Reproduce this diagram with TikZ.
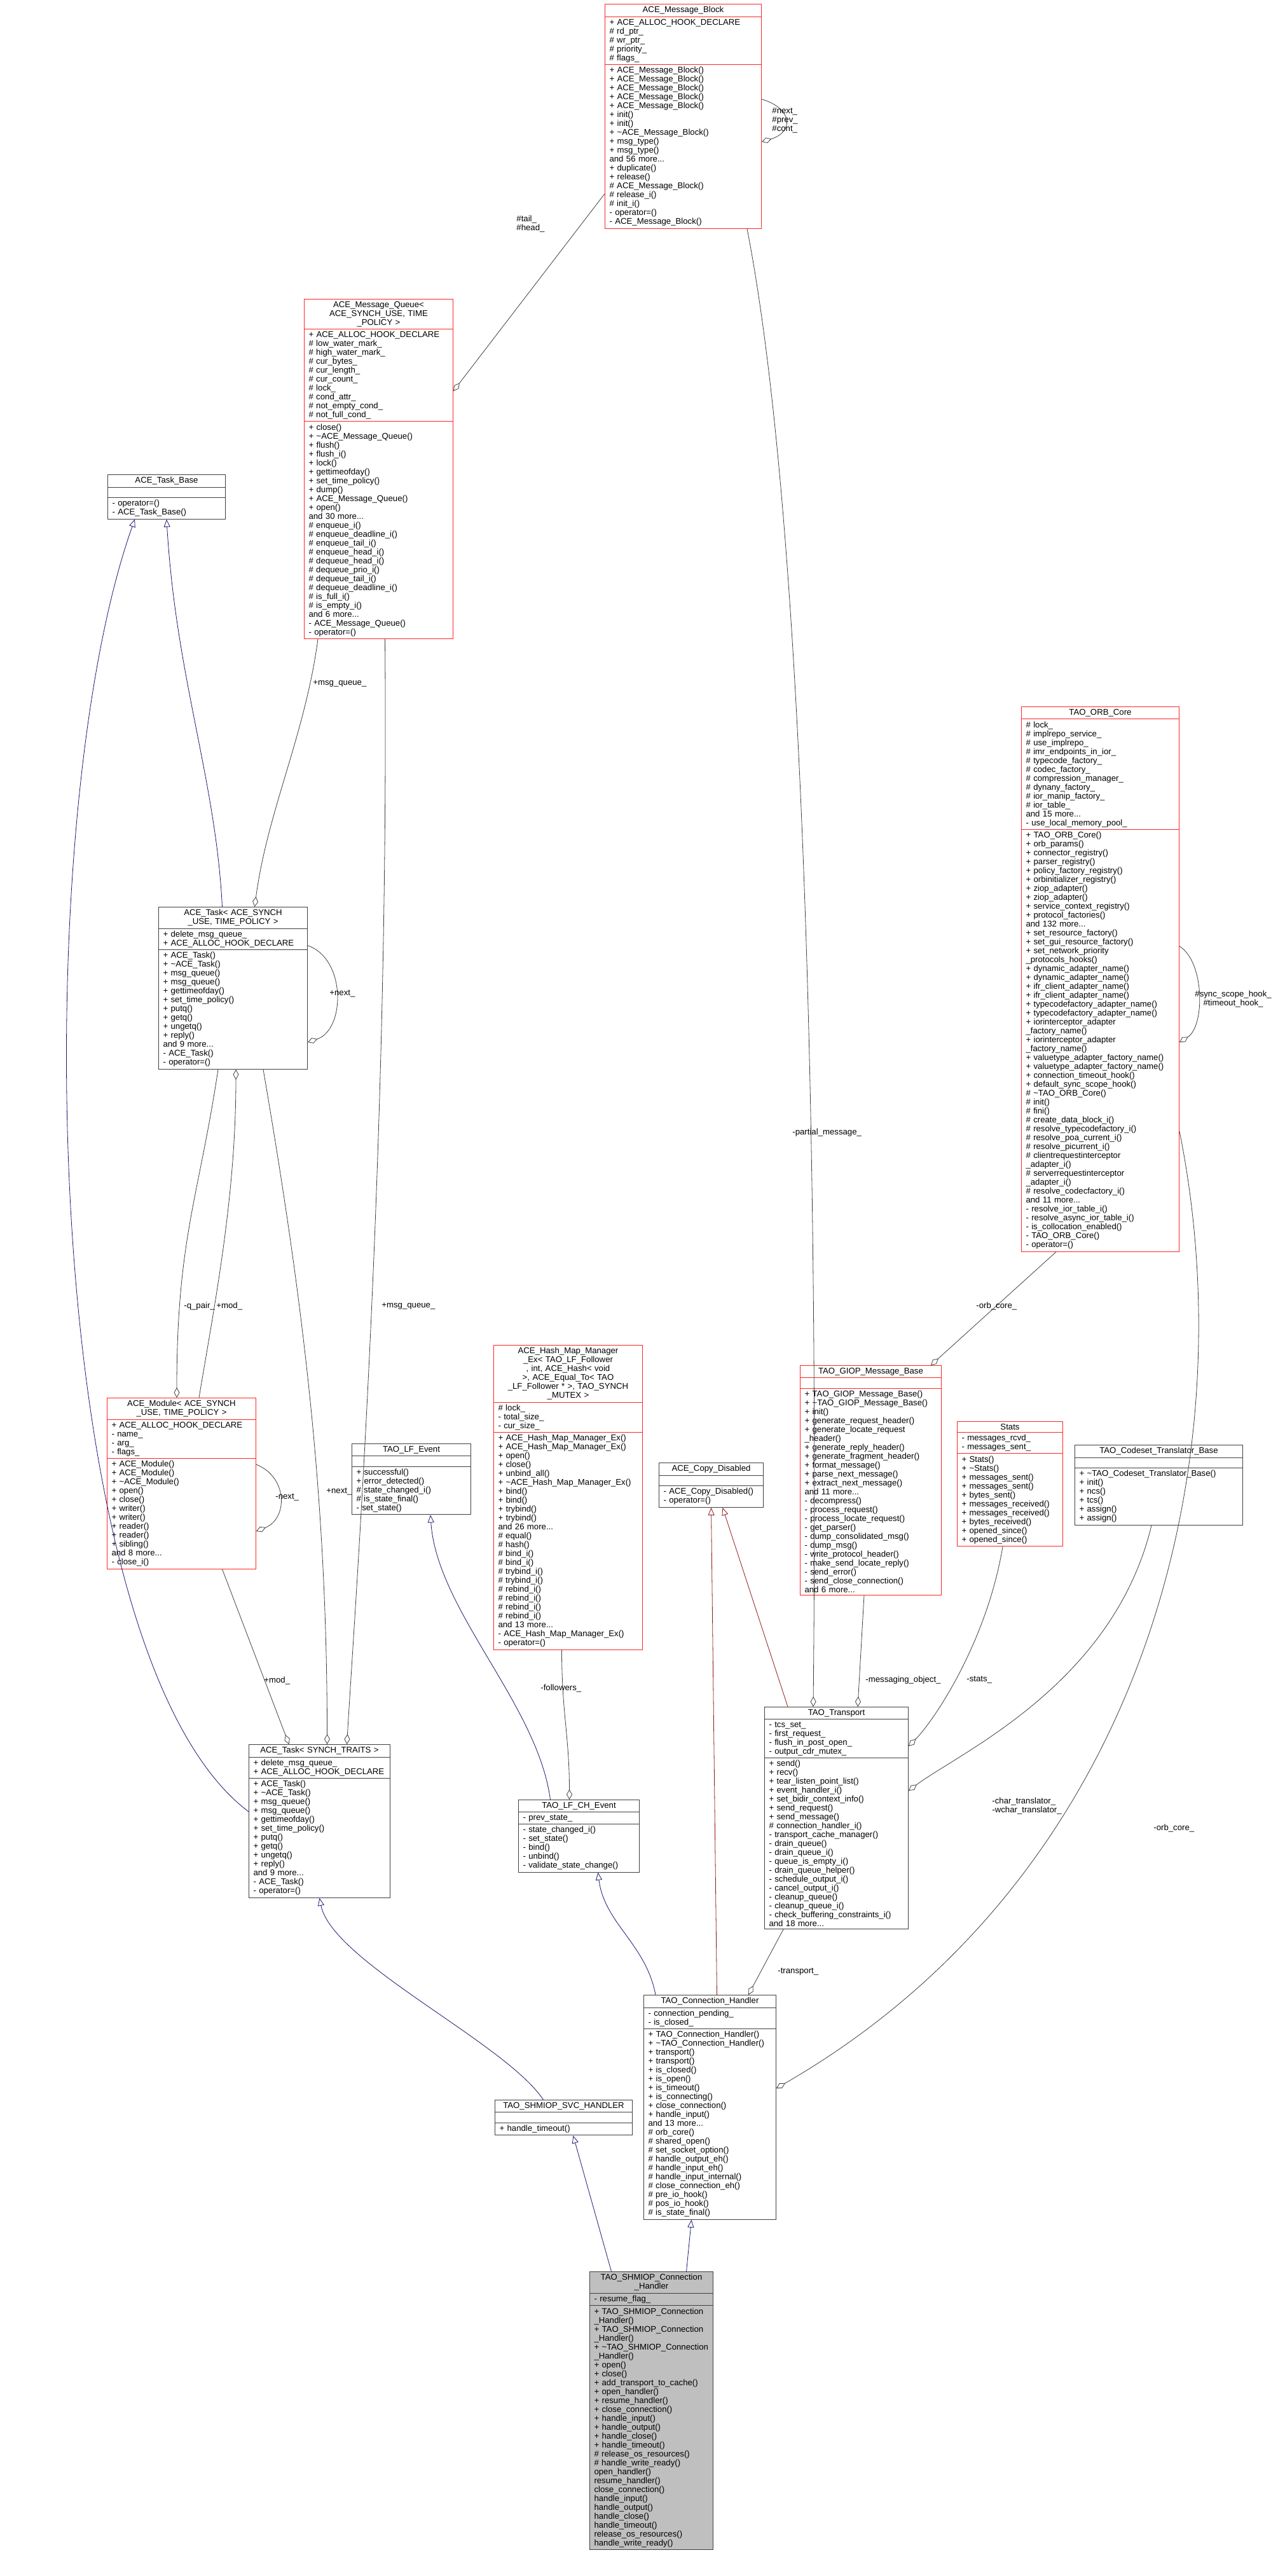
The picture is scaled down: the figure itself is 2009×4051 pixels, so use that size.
\documentclass[tikz,border=0pt]{standalone}
\usepackage{fontspec}
\setmainfont{Liberation Sans}
\usetikzlibrary{shapes.multipart,arrows.meta,calc}
\definecolor{edgegray}{HTML}{404040}
\definecolor{inhblue}{HTML}{191970}
\definecolor{inhred}{HTML}{8B1A1A}
\definecolor{focusgray}{HTML}{BFBFBF}
\newcommand\boxfont{\fontsize{6.6}{7}\selectfont}
\newcommand\classbox[7]{\node[#4, text width=#3pt, anchor=north west] (#1) at (#2) {{\centering #5\par}\nodepart{two}#6\nodepart{three}#7};}
\tikzset{
  cls/.style={draw=black!75, rectangle split, rectangle split parts=3, align=left,
    inner xsep=3.5pt, inner ysep=1.6pt, font=\boxfont, line width=0.5pt},
  redcls/.style={cls, draw=red!85},
  focus/.style={cls, fill=focusgray},
  compo/.style={draw=edgegray, line width=0.4pt, -{Diamond[open,length=8pt,width=4.5pt]}},
  inherit/.style={draw=inhblue, line width=0.4pt, -{Triangle[open,length=6pt,width=5pt]}},
  inheritred/.style={inherit, draw=inhred},
  lbl/.style={font=\boxfont, inner sep=0pt, align=left, anchor=west},
}
\begin{document}
\catcode`\_=12 \catcode`\#=12 \catcode`\~=12
\begin{tikzpicture}[x=0.5pt,y=-0.5pt]
\useasboundingbox (0,0) rectangle (2009,4051);
% classes
\classbox{mb}{951,6}{116}{redcls}{ACE_Message_Block}
 {+ ACE_ALLOC_HOOK_DECLARE\\# rd_ptr_\\# wr_ptr_\\# priority_\\# flags_}
 {+ ACE_Message_Block()\\+ ACE_Message_Block()\\+ ACE_Message_Block()\\+ ACE_Message_Block()\\+ ACE_Message_Block()\\+ init()\\+ init()\\+ ~ACE_Message_Block()\\+ msg_type()\\+ msg_type()\\and 56 more...\\+ duplicate()\\+ release()\\# ACE_Message_Block()\\# release_i()\\# init_i()\\- operator=()\\- ACE_Message_Block()}
\classbox{mq}{478,470}{110}{redcls}{ACE_Message_Queue<\\ ACE_SYNCH_USE, TIME\\ _POLICY >}
 {+ ACE_ALLOC_HOOK_DECLARE\\# low_water_mark_\\# high_water_mark_\\# cur_bytes_\\# cur_length_\\# cur_count_\\# lock_\\# cond_attr_\\# not_empty_cond_\\# not_full_cond_}
 {+ close()\\+ ~ACE_Message_Queue()\\+ flush()\\+ flush_i()\\+ lock()\\+ gettimeofday()\\+ set_time_policy()\\+ dump()\\+ ACE_Message_Queue()\\+ open()\\and 30 more...\\# enqueue_i()\\# enqueue_deadline_i()\\# enqueue_tail_i()\\# enqueue_head_i()\\# dequeue_head_i()\\# dequeue_prio_i()\\# dequeue_tail_i()\\# dequeue_deadline_i()\\# is_full_i()\\# is_empty_i()\\and 6 more...\\- ACE_Message_Queue()\\- operator=()}
\classbox{taskbase}{169,746}{85.5}{cls}{ACE_Task_Base}
 {\phantom{X}}
 {- operator=()\\- ACE_Task_Base()}
\classbox{taskace}{249,1426}{110}{cls}{ACE_Task< ACE_SYNCH\\_USE, TIME_POLICY >}
 {+ delete_msg_queue_\\+ ACE_ALLOC_HOOK_DECLARE}
 {+ ACE_Task()\\+ ~ACE_Task()\\+ msg_queue()\\+ msg_queue()\\+ gettimeofday()\\+ set_time_policy()\\+ putq()\\+ getq()\\+ ungetq()\\+ reply()\\and 9 more...\\- ACE_Task()\\- operator=()}
\classbox{module}{168,2198}{110}{redcls}{ACE_Module< ACE_SYNCH\\_USE, TIME_POLICY >}
 {+ ACE_ALLOC_HOOK_DECLARE\\- name_\\- arg_\\- flags_}
 {+ ACE_Module()\\+ ACE_Module()\\+ ~ACE_Module()\\+ open()\\+ close()\\+ writer()\\+ writer()\\+ reader()\\+ reader()\\+ sibling()\\and 8 more...\\- close_i()}
\classbox{taskst}{391,2743}{104}{cls}{ACE_Task< SYNCH_TRAITS >}
 {+ delete_msg_queue_\\+ ACE_ALLOC_HOOK_DECLARE}
 {+ ACE_Task()\\+ ~ACE_Task()\\+ msg_queue()\\+ msg_queue()\\+ gettimeofday()\\+ set_time_policy()\\+ putq()\\+ getq()\\+ ungetq()\\+ reply()\\and 9 more...\\- ACE_Task()\\- operator=()}
\classbox{lfevent}{553,2270}{86.5}{cls}{TAO_LF_Event}
 {\phantom{X}}
 {+ successful()\\+ error_detected()\\# state_changed_i()\\# is_state_final()\\- set_state()}
\classbox{hashmap}{776,2115}{110}{redcls}{ACE_Hash_Map_Manager\\_Ex< TAO_LF_Follower\\ *, int, ACE_Hash< void\\ * >, ACE_Equal_To< TAO\\_LF_Follower * >, TAO_SYNCH\\_MUTEX >}
 {# lock_\\- total_size_\\- cur_size_}
 {+ ACE_Hash_Map_Manager_Ex()\\+ ACE_Hash_Map_Manager_Ex()\\+ open()\\+ close()\\+ unbind_all()\\+ ~ACE_Hash_Map_Manager_Ex()\\+ bind()\\+ bind()\\+ trybind()\\+ trybind()\\and 26 more...\\# equal()\\# hash()\\# bind_i()\\# bind_i()\\# trybind_i()\\# trybind_i()\\# rebind_i()\\# rebind_i()\\# rebind_i()\\# rebind_i()\\and 13 more...\\- ACE_Hash_Map_Manager_Ex()\\- operator=()}
\classbox{lfch}{815,2830}{88}{cls}{TAO_LF_CH_Event}
 {- prev_state_}
 {- state_changed_i()\\- set_state()\\- bind()\\- unbind()\\- validate_state_change()}
\classbox{copydis}{1036,2300}{75}{cls}{ACE_Copy_Disabled}
 {\phantom{X}}
 {- ACE_Copy_Disabled()\\- operator=()}
\classbox{transport}{1202,2684}{106}{cls}{TAO_Transport}
 {- tcs_set_\\- first_request_\\- flush_in_post_open_\\- output_cdr_mutex_}
 {+ send()\\+ recv()\\+ tear_listen_point_list()\\+ event_handler_i()\\+ set_bidir_context_info()\\+ send_request()\\+ send_message()\\# connection_handler_i()\\- transport_cache_manager()\\- drain_queue()\\- drain_queue_i()\\- queue_is_empty_i()\\- drain_queue_helper()\\- schedule_output_i()\\- cancel_output_i()\\- cleanup_queue()\\- cleanup_queue_i()\\- check_buffering_constraints_i()\\and 18 more...}
\classbox{giop}{1258,2147}{104}{redcls}{TAO_GIOP_Message_Base}
 {\phantom{X}}
 {+ TAO_GIOP_Message_Base()\\+ ~TAO_GIOP_Message_Base()\\+ init()\\+ generate_request_header()\\+ generate_locate_request\\_header()\\+ generate_reply_header()\\+ generate_fragment_header()\\+ format_message()\\+ parse_next_message()\\+ extract_next_message()\\and 11 more...\\- decompress()\\- process_request()\\- process_locate_request()\\- get_parser()\\- dump_consolidated_msg()\\- dump_msg()\\- write_protocol_header()\\- make_send_locate_reply()\\- send_error()\\- send_close_connection()\\and 6 more...}
\classbox{stats}{1505,2235}{76}{redcls}{Stats}
 {- messages_rcvd_\\- messages_sent_}
 {+ Stats()\\+ ~Stats()\\+ messages_sent()\\+ messages_sent()\\+ bytes_sent()\\+ messages_received()\\+ messages_received()\\+ bytes_received()\\+ opened_since()\\+ opened_since()}
\classbox{codeset}{1690,2272}{125}{cls}{TAO_Codeset_Translator_Base}
 {\phantom{X}}
 {+ ~TAO_Codeset_Translator_Base()\\+ init()\\+ ncs()\\+ tcs()\\+ assign()\\+ assign()}
\classbox{orb}{1606,1111}{117}{redcls}{TAO_ORB_Core}
 {# lock_\\# implrepo_service_\\# use_implrepo_\\# imr_endpoints_in_ior_\\# typecode_factory_\\# codec_factory_\\# compression_manager_\\# dynany_factory_\\# ior_manip_factory_\\# ior_table_\\and 15 more...\\- use_local_memory_pool_}
 {+ TAO_ORB_Core()\\+ orb_params()\\+ connector_registry()\\+ parser_registry()\\+ policy_factory_registry()\\+ orbinitializer_registry()\\+ ziop_adapter()\\+ ziop_adapter()\\+ service_context_registry()\\+ protocol_factories()\\and 132 more...\\+ set_resource_factory()\\+ set_gui_resource_factory()\\+ set_network_priority\\_protocols_hooks()\\+ dynamic_adapter_name()\\+ dynamic_adapter_name()\\+ ifr_client_adapter_name()\\+ ifr_client_adapter_name()\\+ typecodefactory_adapter_name()\\+ typecodefactory_adapter_name()\\+ iorinterceptor_adapter\\_factory_name()\\+ iorinterceptor_adapter\\_factory_name()\\+ valuetype_adapter_factory_name()\\+ valuetype_adapter_factory_name()\\+ connection_timeout_hook()\\+ default_sync_scope_hook()\\# ~TAO_ORB_Core()\\# init()\\# fini()\\# create_data_block_i()\\# resolve_typecodefactory_i()\\# resolve_poa_current_i()\\# resolve_picurrent_i()\\# clientrequestinterceptor\\_adapter_i()\\# serverrequestinterceptor\\_adapter_i()\\# resolve_codecfactory_i()\\and 11 more...\\- resolve_ior_table_i()\\- resolve_async_ior_table_i()\\- is_collocation_enabled()\\- TAO_ORB_Core()\\- operator=()}
\classbox{connh}{1012,3137}{97}{cls}{TAO_Connection_Handler}
 {- connection_pending_\\- is_closed_}
 {+ TAO_Connection_Handler()\\+ ~TAO_Connection_Handler()\\+ transport()\\+ transport()\\+ is_closed()\\+ is_open()\\+ is_timeout()\\+ is_connecting()\\+ close_connection()\\+ handle_input()\\and 13 more...\\# orb_core()\\# shared_open()\\# set_socket_option()\\# handle_output_eh()\\# handle_input_eh()\\# handle_input_internal()\\# close_connection_eh()\\# pre_io_hook()\\# pos_io_hook()\\# is_state_final()}
\classbox{svc}{778,3302}{101}{cls}{TAO_SHMIOP_SVC_HANDLER}
 {\phantom{X}}
 {+ handle_timeout()}
\classbox{shmiop}{927,3572}{90}{focus}{TAO_SHMIOP_Connection\\_Handler}
 {- resume_flag_}
 {+ TAO_SHMIOP_Connection\\_Handler()\\+ TAO_SHMIOP_Connection\\_Handler()\\+ ~TAO_SHMIOP_Connection\\_Handler()\\+ open()\\+ close()\\+ add_transport_to_cache()\\+ open_handler()\\+ resume_handler()\\+ close_connection()\\+ handle_input()\\+ handle_output()\\+ handle_close()\\+ handle_timeout()\\# release_os_resources()\\# handle_write_ready()\\* open_handler()\\* resume_handler()\\* close_connection()\\* handle_input()\\* handle_output()\\* handle_close()\\* handle_timeout()\\* release_os_resources()\\* handle_write_ready()}
% inheritance
\draw[inherit] ($(taskace.north)+(-17,0)$) .. controls +(-10,-200) and +(15,250) .. ($(taskbase.south)+(0,0)$);
\draw[inherit] ($(taskst.north west)+(0,106)$) .. controls (60,2600) and (40,1300) .. ($(taskbase.south)+(-50,0)$);
\draw[inherit] ($(svc.north)+(-32,0)$) .. controls +(-60,-90) and +(20,100) .. (taskst.south);
\draw[inherit] ($(shmiop.north)+(-63,0)$) -- ($(svc.south)+(15,0)$);
\draw[inherit] ($(shmiop.north)+(55,0)$) -- ($(connh.south)+(-29,0)$);
\draw[inherit] ($(lfch.north)+(-45,0)$) .. controls +(-20,-150) and +(10,150) .. ($(lfevent.south)+(30,0)$);
\draw[inherit] ($(connh.north west)+(19,0)$) .. controls +(-15,-80) and +(10,80) .. ($(lfch.south)+(30,0)$);
\draw[inheritred] ($(connh.north)+(11,0)$) -- ($(copydis.south)+(0,0)$);
\draw[inheritred] ($(transport.north west)+(37,0)$) -- ($(copydis.south)+(18,0)$);
% usage
\draw[compo] ($(mb.north east)+(0,150)$) .. controls +(50,15) and +(50,-15) .. ($(mb.north east)+(0,217)$);
\node[lbl] (mbloop) at ($(mb.north east)+(16,183)$) {#next_\\#prev_\\#cont_};
\draw[compo] ($(mb.south west)+(0,-55)$) -- ($(mq.north east)+(0,145)$);
\node[lbl] (mbmq) at (812,352) {#tail_\\#head_};
\draw[compo] ($(mq.south west)+(22,0)$) .. controls +(-20,150) and +(20,-150) .. ($(taskace.north)+(34,0)$);
\node[lbl] (mqace) at (492,1075) {+msg_queue_};
\draw[compo] ($(mq.south)+(10,0)$) .. controls (612,1800) and (560,2500) .. ($(taskst.north)+(43,0)$);
\node[lbl] (mqst) at (600,2054) {+msg_queue_};
\draw[compo] ($(taskace.north east)+(0,61)$) .. controls +(60,20) and +(60,-20) .. ($(taskace.north east)+(0,213)$);
\node[lbl] (aceloop) at ($(taskace.north east)+(34,137)$) {+next_};
\draw[compo] ($(taskace.south west)+(94,0)$) .. controls +(-30,200) and +(0,-250) .. ($(module.north west)+(110,0)$);
\node[lbl] (qpair) at (289,2054) {-q_pair_};
\draw[compo] ($(module.north west)+(145,0)$) .. controls +(25,-150) and +(0,200) .. ($(taskace.south west)+(122,0)$);
\node[lbl] (modace) at (340,2054) {+mod_};
\draw[compo] ($(taskace.south west)+(165,0)$) .. controls +(60,350) and +(0,-400) .. ($(taskst.north)+(12,0)$);
\node[lbl] (acest) at (513,2346) {+next_};
\draw[compo] ($(module.north east)+(0,105)$) .. controls +(50,20) and +(50,-20) .. ($(module.north east)+(0,210)$);
\node[lbl] (modloop) at ($(module.north east)+(30,157)$) {-next_};
\draw[compo] ($(module.south)+(64,0)$) -- ($(taskst.north)+(-48,0)$);
\node[lbl] (modst) at (415,2643) {+mod_};
\draw[compo] ($(hashmap.south)+(-10,0)$) .. controls +(0,100) and +(0,-100) .. ($(lfch.north)+(-15,0)$);
\node[lbl] (fol) at (850,2655) {-followers_};
\draw[compo] ($(mb.south east)+(-23,0)$) .. controls (1280,900) and (1285,2100) .. ($(transport.north west)+(77,0)$);
\node[lbl] (partial) at (1246,1781) {-partial_message_};
\draw[compo] ($(giop.south west)+(101,0)$) -- ($(transport.north west)+(147,0)$);
\node[lbl] (msgobj) at (1361,2642) {-messaging_object_};
\draw[compo] ($(stats.south west)+(72,0)$) .. controls +(-25,150) and +(40,-40) .. ($(transport.north east)+(0,62)$);
\node[lbl] (statsl) at (1520,2642) {-stats_};
\draw[compo] ($(codeset.south west)+(121,0)$) .. controls +(-60,250) and +(80,-60) .. ($(transport.north east)+(0,132)$);
\node[lbl] (trans) at (1560,2840) {-char_translator_\\-wchar_translator_};
\draw[compo] ($(transport.south west)+(30,0)$) -- ($(connh.north east)+(-44,0)$);
\node[lbl] (transl) at (1223,3101) {-transport_};
\draw[compo] ($(orb.south west)+(55,0)$) -- ($(giop.north east)+(-17,0)$);
\node[lbl] (orbgiop) at (1535,2054) {-orb_core_};
\draw[compo] ($(orb.north east)+(0,377)$) .. controls +(40,25) and +(40,-25) .. ($(orb.north east)+(0,528)$);
\node[lbl, align=center] (orbloop) at ($(orb.north east)+(24,460)$) {#sync_scope_hook_\\#timeout_hook_};
\draw[compo] ($(orb.north east)+(0,668)$) .. controls (1960,2300) and (1800,2950) .. ($(connh.north east)+(0,147)$);
\node[lbl] (orbconn) at (1814,2875) {-orb_core_};
\end{tikzpicture}
\end{document}
